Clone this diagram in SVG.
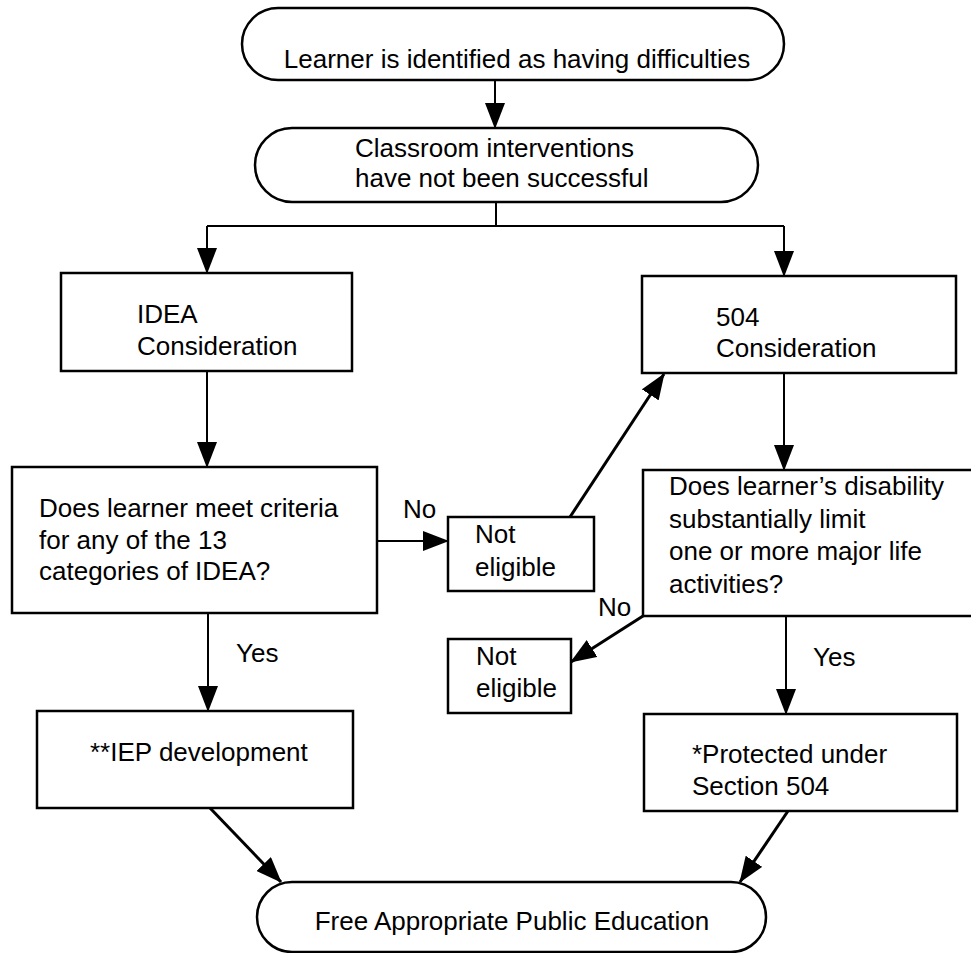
<svg xmlns="http://www.w3.org/2000/svg" width="971" height="953" viewBox="0 0 971 953">
<defs>
<marker id="ah" markerUnits="userSpaceOnUse" markerWidth="26" markerHeight="20" refX="25" refY="10" orient="auto">
<path d="M0,0 L26,10 L0,20 z" fill="#000"/>
</marker>
<style>
.box{fill:#fff;stroke:#000;stroke-width:2.5}
.t{font-family:"Liberation Sans",Arial,Helvetica,sans-serif;font-size:26px;fill:#000}
.c{fill:none;stroke:#000;stroke-width:2}
.d{fill:none;stroke:#000;stroke-width:3}
.a{marker-end:url(#ah)}
</style>
</defs>
<rect width="971" height="953" fill="#fff"/>

<g id="connectors">
<line class="c a" x1="495" y1="80" x2="495" y2="128"/>
<polyline class="c" points="496,202 496,226"/>
<line class="c" x1="207" y1="226" x2="784" y2="226"/>
<line class="c a" x1="207" y1="226" x2="207" y2="273"/>
<line class="c a" x1="784" y1="226" x2="784" y2="276"/>
<line class="c a" x1="207" y1="371" x2="207" y2="467"/>
<line class="c a" x1="784" y1="373" x2="784" y2="470"/>
<line class="c a" x1="377" y1="541" x2="448" y2="541"/>
<line class="d a" x1="570" y1="517" x2="664" y2="374"/>
<line class="d a" x1="643" y1="616" x2="571" y2="662"/>
<line class="c a" x1="208" y1="613" x2="208" y2="711"/>
<line class="c a" x1="786" y1="616" x2="786" y2="714"/>
<line class="d a" x1="210" y1="808" x2="281" y2="882"/>
<line class="d a" x1="788" y1="811" x2="740" y2="882"/>
<text class="t" x="403" y="518">No</text>
<text class="t" x="598" y="616">No</text>
<text class="t" x="236" y="662">Yes</text>
<text class="t" x="813" y="666">Yes</text>
</g>

<g id="start">
<rect class="box" x="242" y="8" width="542" height="72" rx="36" ry="36"/>
<text class="t" x="517" y="68" text-anchor="middle">Learner is identified as having difficulties</text>
</g>

<g id="classroom">
<rect class="box" x="255" y="128" width="503" height="74" rx="37" ry="37"/>
<text class="t" x="355" y="157">Classroom interventions</text>
<text class="t" x="355" y="187">have not been successful</text>
</g>

<g id="idea">
<rect class="box" x="61" y="273" width="291" height="98"/>
<text class="t" x="137" y="323">IDEA</text>
<text class="t" x="137" y="355">Consideration</text>
</g>

<g id="c504">
<rect class="box" x="642" y="276" width="314" height="97"/>
<text class="t" x="716" y="326">504</text>
<text class="t" x="716" y="357">Consideration</text>
</g>

<g id="idea-question">
<rect class="box" x="12" y="467" width="365" height="146"/>
<text class="t" x="39" y="517">Does learner meet criteria</text>
<text class="t" x="39" y="549">for any of the 13</text>
<text class="t" x="39" y="580">categories of IDEA?</text>
</g>

<g id="not-eligible-1">
<rect class="box" x="448" y="517" width="146" height="74"/>
<text class="t" x="475" y="543">Not</text>
<text class="t" x="475" y="576">eligible</text>
</g>

<g id="question-504">
<rect class="box" x="643" y="470" width="335" height="146"/>
<text class="t" x="669" y="495">Does learner’s disability</text>
<text class="t" x="669" y="528">substantially limit</text>
<text class="t" x="669" y="560">one or more major life</text>
<text class="t" x="669" y="593">activities?</text>
</g>

<g id="not-eligible-2">
<rect class="box" x="448" y="639" width="123" height="74"/>
<text class="t" x="476" y="665">Not</text>
<text class="t" x="476" y="697">eligible</text>
</g>

<g id="iep">
<rect class="box" x="37" y="711" width="316" height="97"/>
<text class="t" x="90" y="761">**IEP development</text>
</g>

<g id="protected">
<rect class="box" x="644" y="714" width="313" height="97"/>
<text class="t" x="692" y="763">*Protected under</text>
<text class="t" x="692" y="795">Section 504</text>
</g>

<g id="fape">
<rect class="box" x="257" y="882" width="509" height="70" rx="35" ry="35"/>
<text class="t" x="512" y="930" text-anchor="middle">Free Appropriate Public Education</text>
</g>
</svg>
